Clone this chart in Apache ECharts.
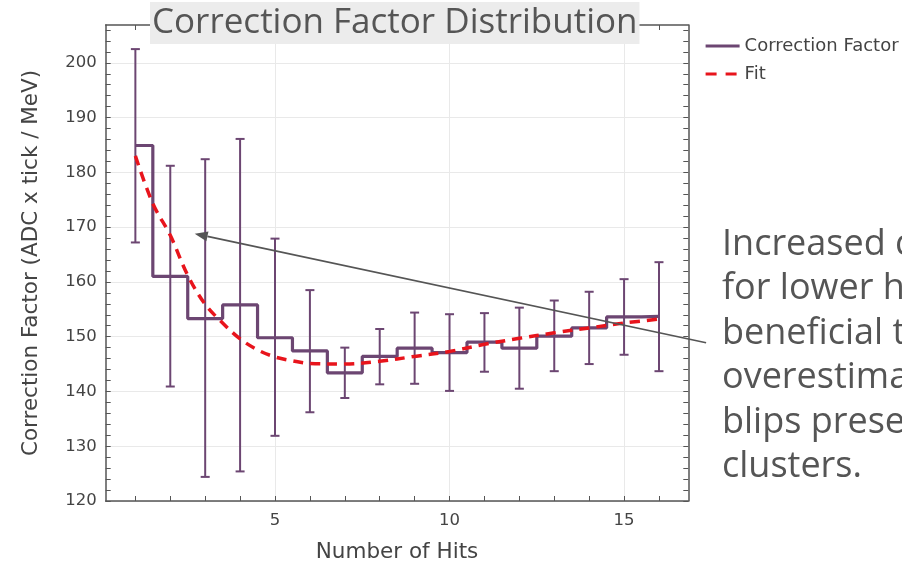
<!DOCTYPE html>
<html>
<head>
<meta charset="utf-8">
<script src="https://cdn.jsdelivr.net/npm/echarts@6/dist/echarts.min.js"></script>
<style>
  html, body { margin: 0; padding: 0; background: #ffffff; }
  #chart { width: 902px; height: 562px; }
</style>
</head>
<body>
<div id="chart"></div>
<script>
// Per-bin correction factor vs. number of hits in the cluster
const hits = [1, 2, 3, 4, 5, 6, 7, 8, 9, 10, 11, 12, 13, 14, 15, 16];
const correction = [184.9, 161.0, 153.3, 155.8, 149.8, 147.4, 143.4, 146.4, 147.9, 147.1, 149.0, 147.9, 150.1, 151.6, 153.6, 153.7];
const errUpper = [202.5, 181.2, 182.4, 186.1, 167.9, 158.5, 148.0, 151.4, 154.4, 154.1, 154.3, 155.3, 156.6, 158.2, 160.5, 163.6];
const errLower = [167.2, 140.9, 124.4, 125.4, 131.9, 136.2, 138.8, 141.3, 141.4, 140.1, 143.6, 140.5, 143.7, 145.0, 146.7, 143.7];

// Fitted curve, sampled along the hit axis
const fitHits = [1, 1.5, 2, 2.5, 3, 3.5, 4, 4.5, 5, 5.5, 6, 7, 8, 9, 10, 11, 12, 13, 14, 15, 16];
const fitValues = [183.0, 174.3, 168.5, 161.2, 155.9, 152.5, 149.6, 147.6, 146.3, 145.6, 145.1, 145.0, 145.5, 146.4, 147.3, 148.6, 149.7, 150.7, 151.6, 152.5, 153.2];

// Axis ticks and labels
const xTickMarks = [1, 2, 3, 4, 5, 6, 7, 8, 9, 10, 11, 12, 13, 14, 15, 16];
const xTickLabels = [5, 10, 15];
const yTickMarks = [120, 122, 124, 126, 128, 130, 132, 134, 136, 138, 140, 142, 144, 146, 148, 150, 152, 154, 156, 158,
                    160, 162, 164, 166, 168, 170, 172, 174, 176, 178, 180, 182, 184, 186, 188, 190, 192, 194, 196, 198,
                    200, 202, 204, 206];
const yTickLabels = [120, 130, 140, 150, 160, 170, 180, 190, 200];

// Side note and the point its arrow refers to
const noteLines = ['Increased correction', 'for lower hits is', 'beneficial to avoid', 'overestimation of', 'blips present in', 'clusters.'];
const arrowHead = [2.7, 168.8];
const arrowTail = [17.35, 148.9];

const PURPLE = '#6c4672';
const RED = '#e8141c';
const AXIS = '#555555';
const GRID = '#e9e9e9';
const LABEL = '#444444';

const xRange = { min: 0.15, max: 16.84 };
const yRange = { min: 120, max: 206.9 };

const frameLine = { show: true, onZero: false, lineStyle: { color: AXIS, width: 1.5 } };
const tickStyle = { color: AXIS, width: 1 };

// Legend glyphs: a solid bar and a two-dash bar, each boxed to 34x14
const solidIcon = 'path://M0,0h0.01v0.01h-0.01z M34,14h-0.01v-0.01h0.01z M0,5.5h34v3h-34z';
const dashIcon = 'path://M0,0h0.01v0.01h-0.01z M34,14h-0.01v-0.01h0.01z M0,5.5h11v3h-11z M20,5.5h11v3h-11z';

const chart = echarts.init(document.getElementById('chart'), null, { renderer: 'canvas' });

chart.setOption({
  animation: false,
  backgroundColor: '#ffffff',
  textStyle: { fontFamily: 'DejaVu Sans' },
  title: {
    text: 'Correction Factor Distribution',
    left: 150,
    top: 2,
    backgroundColor: '#ececec',
    padding: [4, 2, 3, 2],
    textStyle: { fontSize: 35, fontWeight: 'normal', color: '#555555', fontFamily: 'Open Sans' }
  },
  legend: {
    data: [
      { name: 'Correction Factor', icon: solidIcon },
      { name: 'Fit', icon: dashIcon }
    ],
    orient: 'vertical',
    left: 700.6,
    top: 32,
    itemWidth: 34,
    itemHeight: 14,
    itemGap: 10,
    textStyle: { fontSize: 18, color: LABEL, fontFamily: 'DejaVu Sans' }
  },
  grid: { left: 105.7, right: 213.7, top: 25, bottom: 61, containLabel: false, outerBoundsMode: 'none' },
  xAxis: [
    {
      type: 'value', position: 'bottom', ...xRange,
      axisLine: frameLine,
      axisTick: { show: true, inside: true, length: 5, customValues: xTickMarks, lineStyle: tickStyle },
      axisLabel: { customValues: xTickLabels, color: LABEL, fontSize: 16.5, fontFamily: 'DejaVu Sans', margin: 11 },
      splitLine: { show: false },
      name: 'Number of Hits', nameLocation: 'middle', nameGap: 40,
      nameTextStyle: { fontSize: 21.5, color: LABEL, fontFamily: 'DejaVu Sans' }
    },
    {
      type: 'value', position: 'top', ...xRange,
      axisLine: frameLine,
      axisTick: { show: true, inside: true, length: 5, customValues: xTickMarks, lineStyle: tickStyle },
      axisLabel: { show: false },
      splitLine: { show: false }
    },
    {
      type: 'value', position: 'bottom', ...xRange,
      axisLine: { show: false },
      axisTick: { show: false, customValues: xTickLabels },
      axisLabel: { show: false },
      splitLine: { show: true, lineStyle: { color: GRID, width: 1 } }
    }
  ],
  yAxis: [
    {
      type: 'value', position: 'left', ...yRange,
      axisLine: frameLine,
      axisTick: { show: true, inside: true, length: 5, customValues: yTickMarks, lineStyle: tickStyle },
      axisLabel: { customValues: yTickLabels, color: LABEL, fontSize: 16.5, fontFamily: 'DejaVu Sans', margin: 9 },
      splitLine: { show: false },
      name: 'Correction Factor (ADC x tick / MeV)', nameLocation: 'middle', nameGap: 63,
      nameTextStyle: { fontSize: 21.5, color: LABEL, fontFamily: 'DejaVu Sans' }
    },
    {
      type: 'value', position: 'right', ...yRange,
      axisLine: frameLine,
      axisTick: { show: true, inside: true, length: 5, customValues: yTickMarks, lineStyle: tickStyle },
      axisLabel: { show: false },
      splitLine: { show: false }
    },
    {
      type: 'value', position: 'left', ...yRange,
      axisLine: { show: false },
      axisTick: { show: false, customValues: yTickLabels },
      axisLabel: { show: false },
      splitLine: { show: true, lineStyle: { color: GRID, width: 1 } }
    }
  ],
  series: [
    {
      name: 'Correction Factor',
      type: 'line',
      step: 'middle',
      xAxisIndex: 0, yAxisIndex: 0,
      data: hits.map((h, i) => [h, correction[i]]),
      symbol: 'none',
      lineStyle: { color: PURPLE, width: 3.2 },
      itemStyle: { color: PURPLE },
      z: 3
    },
    {
      name: 'Error',
      type: 'custom',
      xAxisIndex: 0, yAxisIndex: 0,
      data: hits.map((h, i) => [h, errUpper[i], errLower[i]]),
      encode: { x: 0, y: [1, 2] },
      renderItem: function (params, api) {
        const x = api.value(0);
        const top = api.coord([x, api.value(1)]);
        const bottom = api.coord([x, api.value(2)]);
        const cap = 4.5;
        const style = { stroke: PURPLE, lineWidth: 2 };
        return {
          type: 'group',
          children: [
            { type: 'line', shape: { x1: top[0], y1: top[1], x2: bottom[0], y2: bottom[1] }, style: style },
            { type: 'line', shape: { x1: top[0] - cap, y1: top[1], x2: top[0] + cap, y2: top[1] }, style: style },
            { type: 'line', shape: { x1: bottom[0] - cap, y1: bottom[1], x2: bottom[0] + cap, y2: bottom[1] }, style: style }
          ]
        };
      },
      z: 2
    },
    {
      name: 'Fit',
      type: 'line',
      smooth: 0.35,
      xAxisIndex: 0, yAxisIndex: 0,
      data: fitHits.map((h, i) => [h, fitValues[i]]),
      symbol: 'none',
      lineStyle: { color: RED, width: 3.5, type: [10, 7] },
      itemStyle: { color: RED },
      z: 4
    }
  ]
});

// Side note with an arrow pointing back into the plot
const head = chart.convertToPixel({ xAxisIndex: 0, yAxisIndex: 0 }, arrowHead);
const tail = chart.convertToPixel({ xAxisIndex: 0, yAxisIndex: 0 }, arrowTail);
const dx = head[0] - tail[0], dy = head[1] - tail[1];
const len = Math.sqrt(dx * dx + dy * dy);
const ux = dx / len, uy = dy / len;
const headLen = 13, headHalf = 5;
const base = [head[0] - ux * headLen, head[1] - uy * headLen];

chart.setOption({
  graphic: [
    {
      type: 'line', z: 20,
      shape: { x1: tail[0], y1: tail[1], x2: base[0], y2: base[1] },
      style: { stroke: '#555555', lineWidth: 1.6 }
    },
    {
      type: 'polygon', z: 20,
      shape: { points: [head, [base[0] - uy * headHalf, base[1] + ux * headHalf], [base[0] + uy * headHalf, base[1] - ux * headHalf]] },
      style: { fill: '#555555' }
    },
    {
      type: 'text', z: 20,
      left: 722, top: 222,
      style: {
        text: noteLines.join('\n'),
        font: '36px "Open Sans"',
        lineHeight: 44.5,
        fill: '#555555'
      }
    }
  ]
});
</script>
</body>
</html>
